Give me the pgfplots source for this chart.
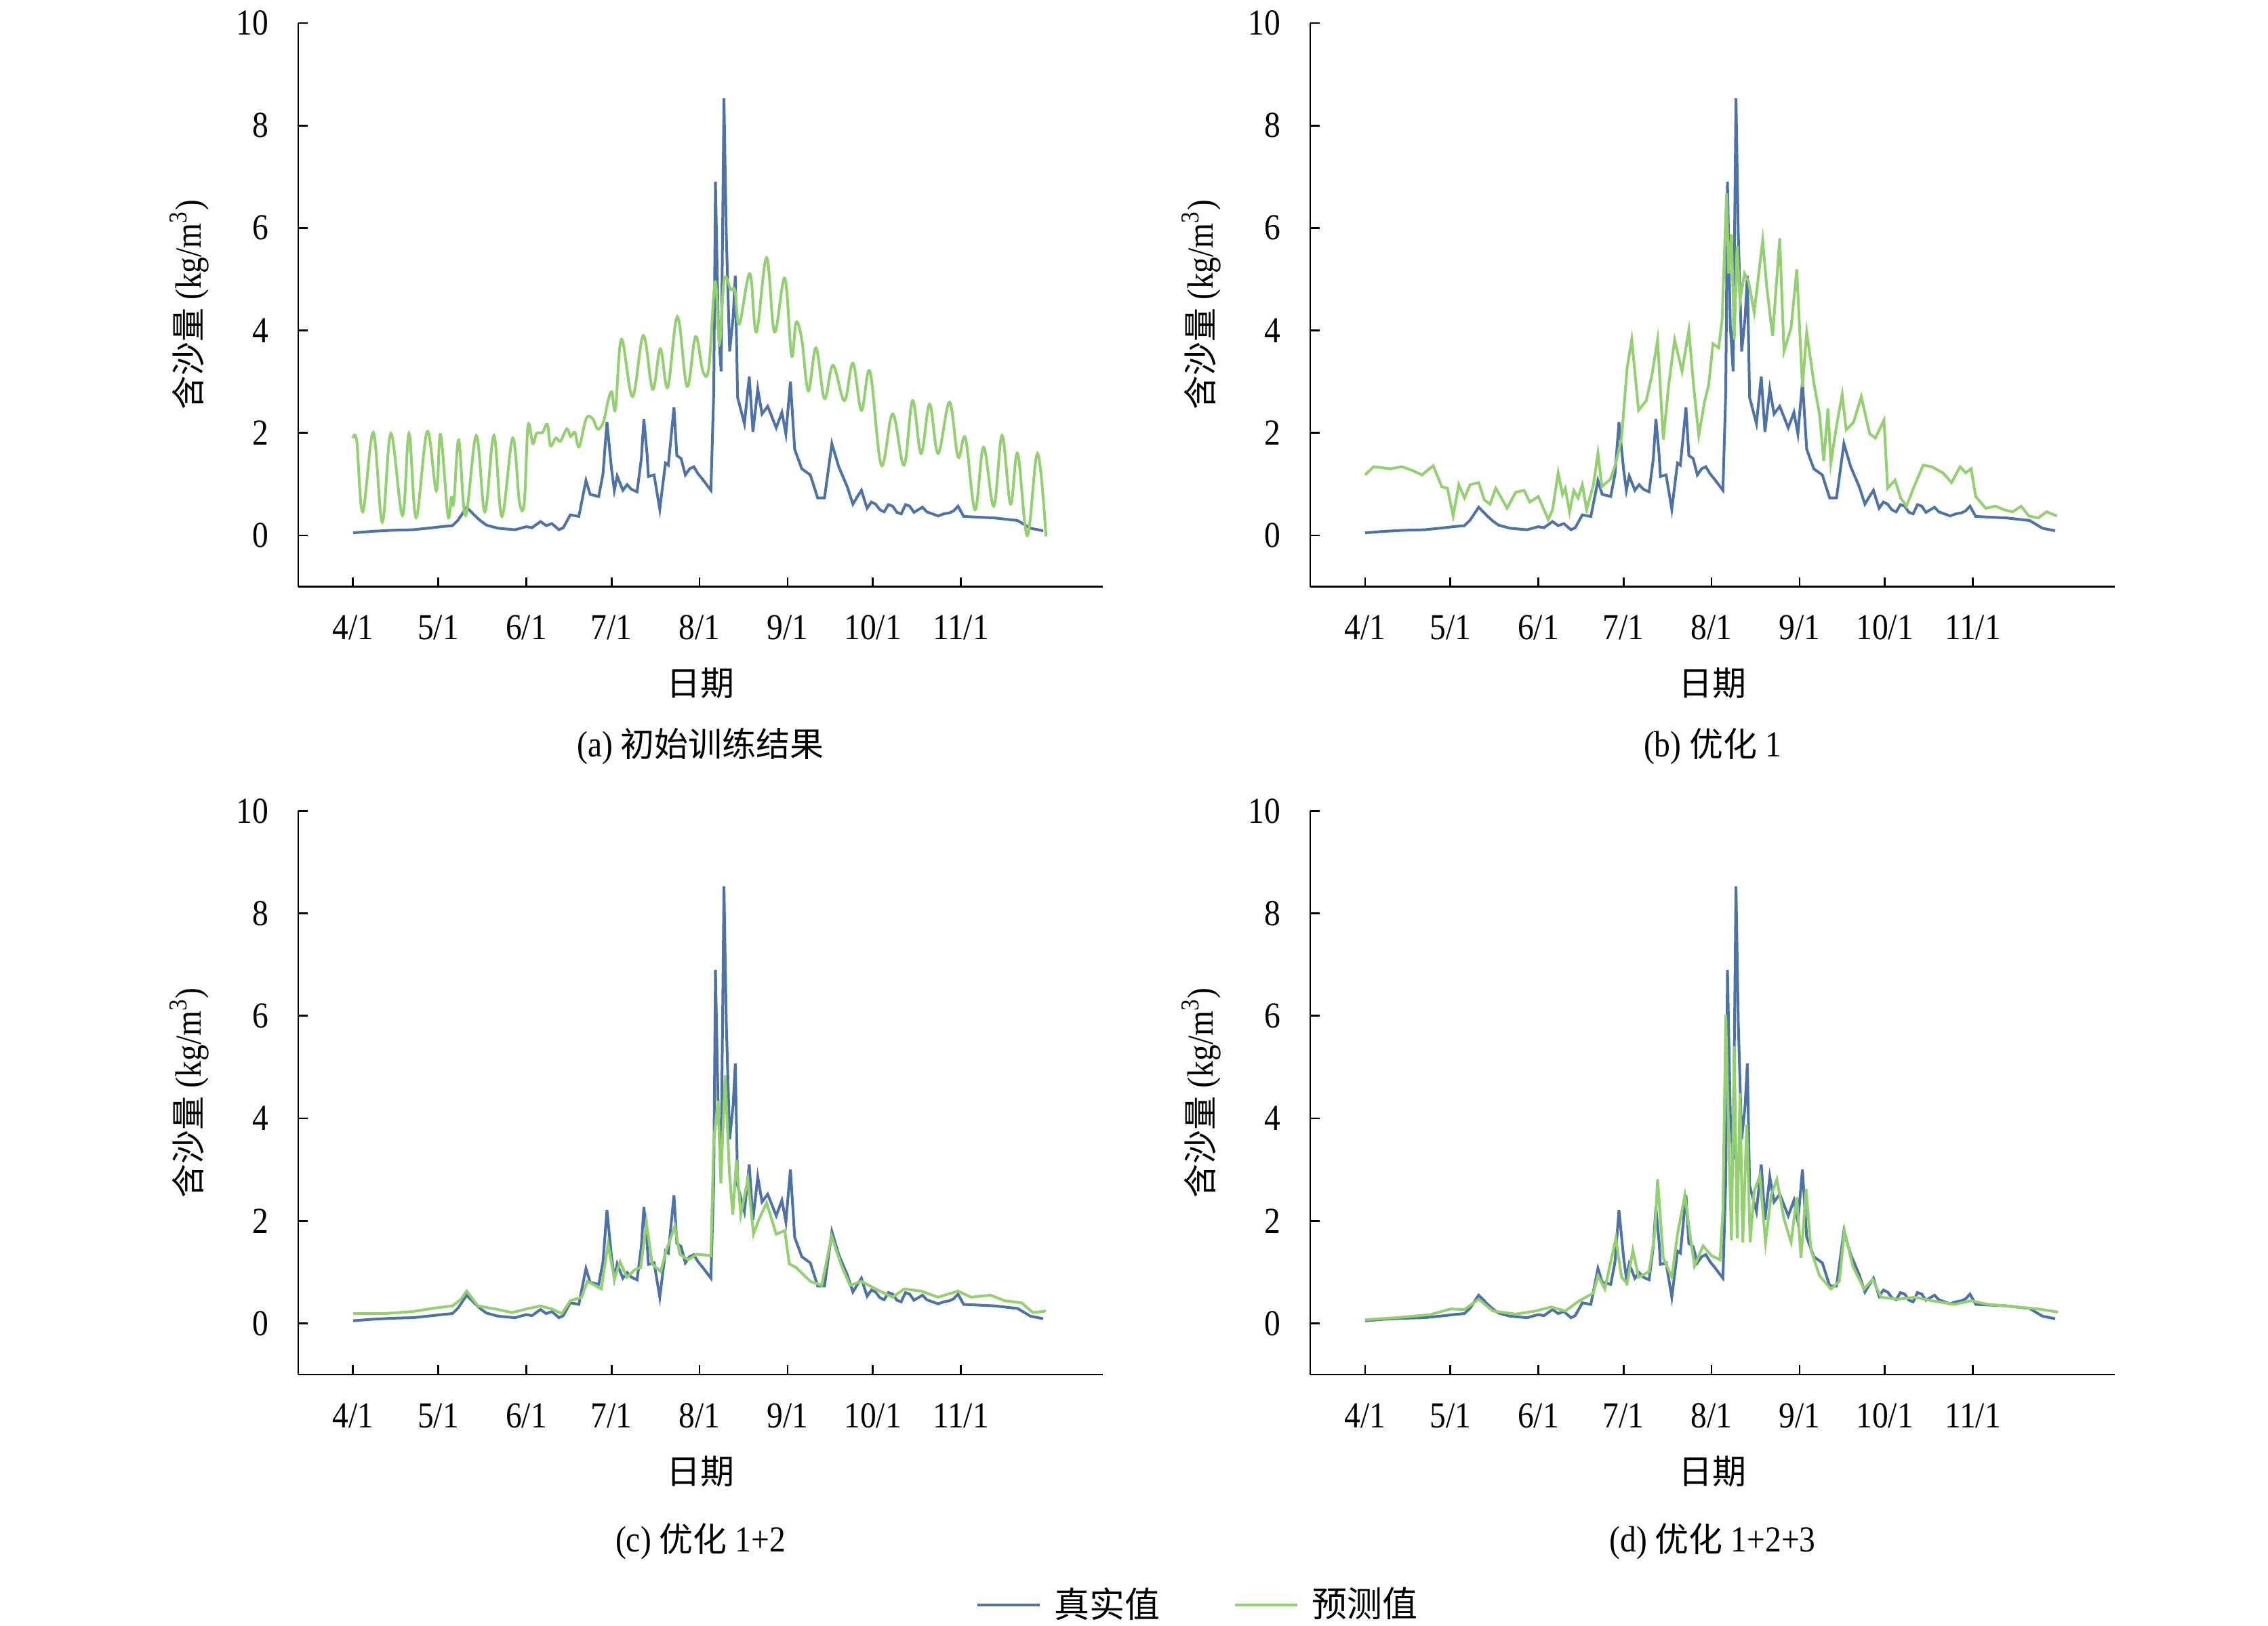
\documentclass[border=0pt]{standalone}
\usepackage{fontspec}
\setmainfont{Liberation Serif}[FakeStretch=0.88]
\newfontfamily\cjk{Noto Sans CJK SC}
\usepackage{pgfplots}
\pgfplotsset{compat=1.18}
\usepackage{pgfplotstable}
\definecolor{realblue}{RGB}{76,114,168}
\definecolor{predgreen}{RGB}{146,208,112}
\newcommand\zh[1]{{\cjk\fontsize{12.5}{15}\selectfont #1}}

\pgfplotstableread{
d v
0 0.05
7 0.08
14 0.10
21 0.11
28 0.15
31 0.17
35 0.19
37 0.3
40 0.55
43 0.38
45 0.28
47 0.2
51 0.14
57 0.11
61 0.17
63 0.15
66 0.27
68 0.19
70 0.23
72.5 0.11
74 0.15
76.5 0.4
79.5 0.37
82 1.07
83.5 0.8
86.5 0.76
88 1.2
89.4 2.21
91 1.3
92 0.88
93 1.16
95 0.88
96.5 0.99
98 0.9
100 0.85
101.5 1.5
102.4 2.27
103.5 1.6
104 1.15
106 1.18
108 0.51
110 1.41
111 1.37
113 2.5
114 1.56
115.5 1.5
117 1.18
118.5 1.3
120 1.34
121.5 1.2
123 1.1
126 0.88
127 2.79
127.6 6.9
128.6 4.08
129.6 3.2
130.6 8.53
131.4 5.9
132.6 3.59
133.8 4.24
134.6 5.07
135.4 2.69
137.8 2.18
139.5 3.1
140.8 2.02
142.5 2.86
144 2.37
146 2.52
149 2.1
151 2.4
152.4 1.98
154 3.0
155.5 1.68
158 1.3
161 1.18
163.6 0.73
166 0.73
168.6 1.79
171 1.34
174 0.95
176 0.61
177.5 0.75
179 0.88
180 0.7
181 0.53
182.5 0.65
184 0.61
185.5 0.5
187 0.46
188.5 0.6
190 0.57
191.5 0.45
193 0.42
194.5 0.6
196 0.57
197.5 0.45
199 0.5
200.5 0.55
202 0.46
204 0.42
206 0.38
208 0.42
210 0.44
211.5 0.48
213 0.57
215 0.37
226 0.34
234 0.29
238.5 0.14
243 0.09
}\realdata

\pgfplotstableread{
d v
0 1.9
1.3 1.84
3.4 0.46
7.1 2.01
10.3 0.26
13.3 1.99
17.4 0.39
19.7 1.99
22.2 0.35
26.1 2.03
29.3 0.87
30.8 1.97
33.4 0.39
34.6 0.74
35.5 0.65
37.2 1.86
39.6 0.39
43.4 1.95
46.4 0.46
49.6 1.95
52.4 0.37
56.2 1.9
58.6 0.65
60.3 0.65
61.6 2.14
63.3 1.79
64.6 1.99
66.7 2.01
68.4 2.17
69.5 1.75
71.4 1.9
73 1.84
75.3 2.08
76.6 1.93
78.1 2.01
79.6 1.73
82.1 2.28
84.3 2.28
86 2.08
87.3 2.12
88.5 2.28
89.8 2.63
91.1 2.8
92.4 2.47
94.5 3.83
98.4 2.71
102.2 3.9
105.5 2.85
108.2 3.64
110.8 2.89
114.2 4.27
117.6 2.91
120.6 3.88
123.2 3.2
125.3 3.29
127.5 4.95
129 3.74
130.7 5.0
133 4.8
134.5 4.77
136 4.12
139.7 5.11
142 3.97
145.6 5.42
148.4 3.97
152 5.02
154.4 3.51
156 4.16
158 3.82
160.3 2.82
163 3.66
166 2.67
169 3.32
173 2.63
176 3.36
179 2.44
182 3.2
186 1.37
190 2.37
194 1.37
197 2.63
200 1.6
203 2.56
206 1.6
210 2.6
213 1.53
215.6 1.9
219 0.5
222 1.72
225.6 0.57
228.5 1.95
231.5 0.61
234 1.6
237.4 0.0
241 1.6
244 -0.02
}\preda

\pgfplotstableread{
d v
0 1.18
3 1.34
9 1.3
13 1.34
17 1.26
20 1.18
24 1.36
27 0.95
29 0.92
31 0.38
33 0.99
35 0.73
37 0.99
40 1.03
42 0.69
44 0.61
46 0.92
48 0.73
50 0.53
53 0.84
56 0.88
58 0.65
61 0.76
64.5 0.31
66 0.5
68 1.22
69.5 0.8
70.5 0.92
72 0.46
73.5 0.88
75 0.73
76.5 0.99
78 0.5
80.4 0.99
82 1.6
83.4 0.95
86.4 1.1
88.3 1.41
90.3 1.9
92.3 3.28
93.9 3.82
96.3 2.44
99 2.63
101 3.13
103 3.82
105 1.87
107 2.98
109 3.82
111.6 3.2
114 4.0
115.7 2.9
117.5 1.95
119.5 2.6
121 2.94
122.5 3.74
124.5 3.66
125.7 4.2
127.3 6.68
128 5.11
129 5.88
130 3.82
131 5.65
132 4.58
133.6 5.11
135 4.96
137 4.35
140 5.76
141.5 4.81
143.5 3.89
146 5.8
147.5 3.59
150 4.05
152 5.19
154 2.9
155.5 3.97
158 2.98
160 2.37
161.5 1.45
163 2.48
164 1.41
166 2.14
168 2.75
169.4 2.06
172 2.21
174.7 2.71
177.7 1.98
179.7 1.9
182.7 2.25
184 0.92
186.6 1.08
188.6 0.73
190.6 0.57
193.6 0.99
196.5 1.37
199.5 1.34
203.5 1.22
206.5 1.03
209.5 1.34
211.5 1.22
213.4 1.3
215 0.76
218.5 0.53
222 0.57
225 0.5
228 0.46
231 0.57
233.7 0.38
237 0.34
240 0.46
243.6 0.38
}\predb

\pgfplotstableread{
d v
0 0.19
11 0.19
21 0.23
29 0.3
35 0.34
38 0.47
40 0.63
44 0.34
51 0.27
56 0.21
61 0.28
66 0.34
70 0.28
73.5 0.19
76.5 0.44
80.5 0.51
82.5 0.82
87.4 0.67
89.8 1.55
92 0.86
94 1.2
96.4 0.9
99.3 1.05
101.3 1.09
103.3 1.97
105.3 1.16
108.3 1.01
110.3 1.43
113.3 1.89
115 1.35
118 1.24
121 1.35
126 1.32
127 3.57
128.5 4.34
129.5 2.73
131 4.84
132.5 2.96
133.7 2.12
135 3.19
136.5 2.12
139 2.81
141 1.74
143 2.04
145.6 2.35
149 1.74
152 1.81
153.6 1.16
156 1.09
161 0.82
165 0.74
168.5 1.7
172 1.12
175 0.74
179 0.82
184 0.67
190 0.51
194 0.67
200 0.63
206 0.51
213 0.63
217.6 0.51
224.5 0.55
229.5 0.44
235.4 0.4
239.4 0.21
244 0.24
}\predc

\pgfplotstableread{
d v
0 0.07
11 0.11
23 0.17
30 0.28
35 0.27
40 0.47
45 0.24
53 0.18
60 0.24
65.5 0.32
70.5 0.24
75.4 0.44
80.4 0.59
82 0.93
84.4 0.67
88.3 1.66
90.3 0.9
92.3 0.78
94.3 1.43
96.3 0.9
100 1.01
102 1.74
103 2.81
105 1.28
108 0.9
110 1.74
112.6 2.5
114.5 1.7
116 1.12
119 1.51
122 1.32
125 1.24
126 2.2
127 6.02
128 3.73
129 1.62
130 5.41
131 1.66
132 4.49
133 1.58
134.4 3.88
135.6 1.58
137 2.58
139 2.88
141 1.58
143 2.5
145 2.81
147.5 2.04
150 1.58
152 2.46
153.5 1.28
155.3 2.62
157 1.43
160 0.93
164 0.67
167 0.82
168.8 1.81
171.7 1.12
175.7 0.67
178.7 0.86
181.7 0.51
187.6 0.47
193.6 0.51
199.5 0.44
207.5 0.37
213.4 0.44
219.4 0.37
229.4 0.32
237 0.28
244 0.22
}\predd

\pgfplotsset{
  panel/.style={
    width=296.75pt, height=207.9pt, scale only axis,
    xmin=-19.3, xmax=264, ymin=-1, ymax=10,
    axis lines*=left,
    axis line style={line width=0.7pt, black},
    tick align=inside, major tick length=3.5pt,
    every tick/.style={line width=0.7pt, black},
    xtick={0,30,61,91,122,153,183,214},
    xticklabels={4/1,5/1,6/1,7/1,8/1,9/1,10/1,11/1},
    ytick={0,2,4,6,8,10}, yticklabels={0,2,4,6,8,10},
    ticklabel style={font=\fontsize{13.5}{16}\selectfont},
    xticklabel style={anchor=base, yshift=-19.5pt},
    yticklabel style={anchor=east, xshift=-6.3pt},
    anchor=south west,
  },
  realline/.style={realblue, line width=1pt},
  predline/.style={predgreen, line width=1pt},
}

\begin{document}
\fontsize{13.5}{16}\selectfont
\begin{tikzpicture}
\path[use as bounding box] (0,0) rectangle (836.5pt,-599.5pt);

\begin{axis}[panel, name=a, at={(110pt,-216.375pt)}]
  \addplot[realline] table {\realdata};
  \addplot[predline, smooth, tension=0.6] table {\preda};
\end{axis}

\begin{axis}[panel, name=b, at={(483.25pt,-216.375pt)}]
  \addplot[realline] table {\realdata};
  \addplot[predline] table {\predb};
\end{axis}

\begin{axis}[panel, name=c, at={(110pt,-507pt)},
  legend columns=2,
  legend style={at={(axis description cs:0.8416,-0.409)}, anchor=west,
    draw=none, fill=none, inner sep=0pt,
    font=\cjk\fontsize{13}{15}\selectfont,
    /tikz/every odd column/.append style={column sep=3pt},
    /tikz/every even column/.append style={column sep=25pt}},
  legend image code/.code={\draw[#1] (0pt,0pt) -- (23pt,0pt);},
  ]
  \addplot[realline] table {\realdata};
  \addlegendentry{真实值}
  \addplot[predline] table {\predc};
  \addlegendentry{预测值}
\end{axis}

\begin{axis}[panel, name=d, at={(483.25pt,-507pt)}]
  \addplot[realline] table {\realdata};
  \addplot[predline] table {\predd};
\end{axis}

\foreach \p/\cap/\capshift in {a/{(a) \zh{初始训练结果}}/59pt, b/{(b) \zh{优化} 1}/59pt, c/{(c) \zh{优化} 1+2}/61.5pt, d/{(d) \zh{优化} 1+2+3}/61.5pt}{
  \node[rotate=90, anchor=center] at ([xshift=-40.25pt]\p.west) {\zh{含沙量} (kg/m\textsuperscript{3})};
  \node[anchor=center] at ([yshift=-35.6pt]\p.south) {\zh{日期}};
  \node[anchor=center] at ([yshift=-\capshift]\p.south) {\cap};
}
\end{tikzpicture}
\end{document}
